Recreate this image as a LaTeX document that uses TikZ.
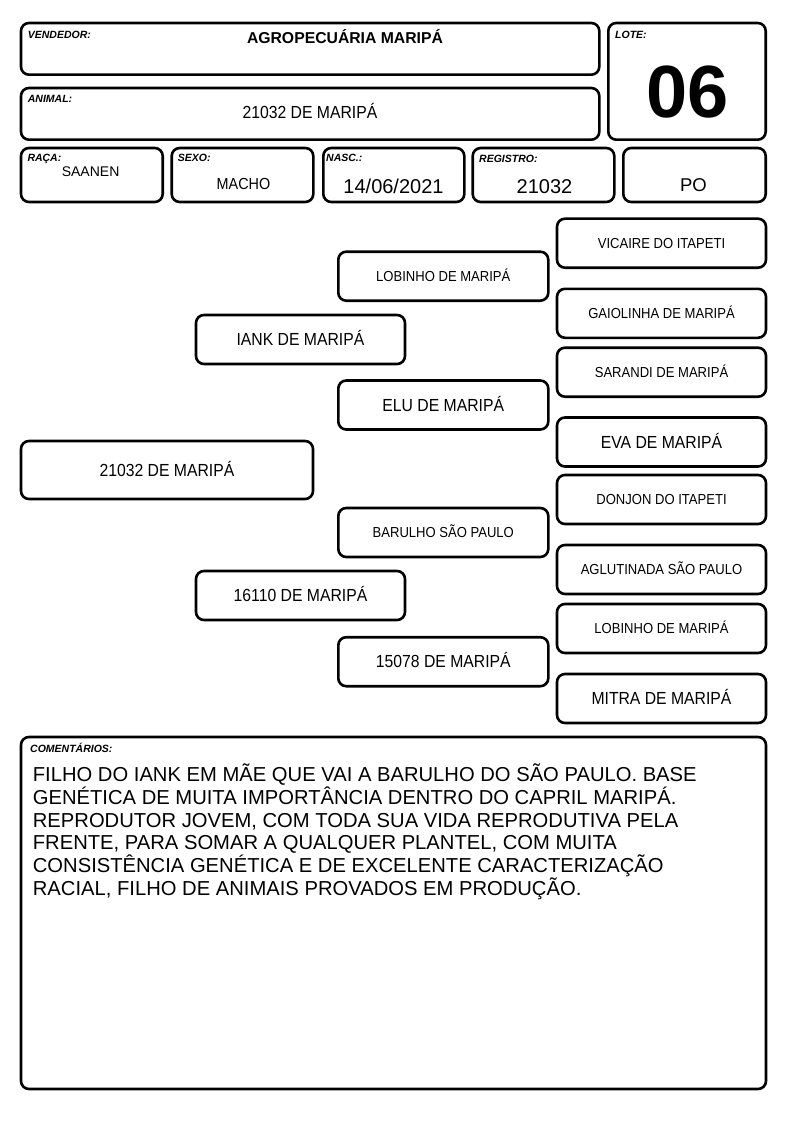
\documentclass[tikz,border=0pt]{standalone}
\usepackage{fontspec}
\setmainfont{Liberation Sans}
\newfontfamily\cond[FakeStretch=0.9]{Liberation Sans}
\begin{document}
\begin{tikzpicture}[x=1pt,y=-1pt,
  box/.style={draw=black, line width=2.6pt, rounded corners=8pt, inner sep=0pt},
  lbl/.style={anchor=base west, inner sep=0pt, font=\bfseries\itshape\fontsize{10.5}{12}\selectfont},
  val/.style={anchor=base, inner sep=0pt},
  pedL/.style={box, text height=12.5pt, text depth=0pt, font=\cond\fontsize{17.5}{20}\selectfont},
  pedS/.style={box, text height=10.4pt, text depth=0pt, font=\cond\fontsize{14.5}{17}\selectfont},
  g0/.style={minimum width=292pt, minimum height=58pt},
  g1/.style={minimum width=209pt, minimum height=49pt},
  g2/.style={minimum width=210pt, minimum height=49pt},
  g3/.style={minimum width=209pt, minimum height=49pt},
  cline/.style={anchor=base west, inner sep=0pt, font=\fontsize{20.2}{22.7}\selectfont}
]
\useasboundingbox (0,0) rectangle (794,1123);
\fill[white] (0,0) rectangle (794,1123);

% header boxes
\node[box, minimum width=578.3pt, minimum height=51.7pt] (vend) at (310.15,48.85) {};
\node[box, minimum width=157.4pt, minimum height=116.7pt] (lote) at (687,81.35) {};
\node[box, minimum width=578.3pt, minimum height=51.7pt] (animal) at (310.15,113.85) {};
\node[box, minimum width=141.7pt, minimum height=54pt] (raca) at (91.85,175) {};
\node[box, minimum width=141.6pt, minimum height=54pt] (sexo) at (242.5,175) {};
\node[box, minimum width=141pt, minimum height=54pt] (nasc) at (393.8,175) {};
\node[box, minimum width=141.6pt, minimum height=54pt] (reg) at (543.5,175) {};
\node[box, minimum width=142.4pt, minimum height=54pt] (po) at (694.5,175) {};

% labels
\node[lbl] (lvend) at (27.7,38.7) {VENDEDOR:};
\node[lbl] (lanimal) at (27.7,102.3) {ANIMAL:};
\node[lbl] (lraca) at (27.3,162) {RAÇA:};
\node[lbl] (lsexo) at (177.7,162) {SEXO:};
\node[lbl] (lnasc) at (326,162) {NASC.:};
\node[lbl] (lreg) at (479,163) {REGISTRO:};
\node[lbl] (llote) at (615,38.7) {LOTE:};

% values
\node[val, font=\bfseries\fontsize{15.75}{18}\selectfont] (vvend) at (345,43.3) {AGROPECUÁRIA MARIPÁ};
\node[val, font=\cond\fontsize{17.5}{20}\selectfont] (vanimal) at (310,119) {21032 DE MARIPÁ};
\node[val, font=\fontsize{14}{16}\selectfont] (vraca) at (90.6,177) {SAANEN};
\node[val, font=\cond\fontsize{16}{18}\selectfont] (vsexo) at (243.5,189.3) {MACHO};
\node[val, font=\fontsize{20}{22}\selectfont] (vnasc) at (393.5,193.3) {14/06/2021};
\node[val, font=\fontsize{20}{22}\selectfont] (vreg) at (544.5,193.3) {21032};
\node[val, font=\fontsize{18.5}{21}\selectfont] (vpo) at (693.5,192) {PO};
\node[val, font=\bfseries\fontsize{74}{80}\selectfont] (vlote) at (687.5,118) {06};

% pedigree
\node[pedL, g0] (p0) at (167,470) {21032 DE MARIPÁ};
\node[pedL, g1] (p1a) at (300.5,339.5) {IANK DE MARIPÁ};
\node[pedL, g1] (p1b) at (300.5,595.5) {16110 DE MARIPÁ};
\node[pedS, g2] (p2a) at (443.3,276.2) {LOBINHO DE MARIPÁ};
\node[pedL, g2] (p2b) at (443.3,405) {ELU DE MARIPÁ};
\node[pedS, g2] (p2c) at (443.3,532.5) {BARULHO SÃO PAULO};
\node[pedL, g2] (p2d) at (443.3,661.7) {15078 DE MARIPÁ};
\node[pedS, g3] (p3a) at (661.5,243.2) {VICAIRE DO ITAPETI};
\node[pedS, g3] (p3b) at (661.5,313.3) {GAIOLINHA DE MARIPÁ};
\node[pedS, g3] (p3c) at (661.5,372.2) {SARANDI DE MARIPÁ};
\node[pedL, g3] (p3d) at (661.5,442) {EVA DE MARIPÁ};
\node[pedS, g3] (p3e) at (661.5,499.5) {DONJON DO ITAPETI};
\node[pedS, g3] (p3f) at (661.5,569.5) {AGLUTINADA SÃO PAULO};
\node[pedS, g3] (p3g) at (661.5,628.5) {LOBINHO DE MARIPÁ};
\node[pedL, g3] (p3h) at (661.5,698.5) {MITRA DE MARIPÁ};

% comments
\node[box, minimum width=745pt, minimum height=352pt] (coment) at (393.5,913) {};
\node[lbl] (lcoment) at (30,752.7) {COMENTÁRIOS:};
\node[cline] (c1) at (32.7,781.7) {FILHO DO IANK EM MÃE QUE VAI A BARULHO DO SÃO PAULO. BASE};
\node[cline] (c2) at (32.7,804.4) {GENÉTICA DE MUITA IMPORTÂNCIA DENTRO DO CAPRIL MARIPÁ.};
\node[cline] (c3) at (32.7,827.1) {REPRODUTOR JOVEM, COM TODA SUA VIDA REPRODUTIVA PELA};
\node[cline] (c4) at (32.7,849.8) {FRENTE, PARA SOMAR A QUALQUER PLANTEL, COM MUITA};
\node[cline] (c5) at (32.7,872.5) {CONSISTÊNCIA GENÉTICA E DE EXCELENTE CARACTERIZAÇÃO};
\node[cline] (c6) at (32.7,895.2) {RACIAL, FILHO DE ANIMAIS PROVADOS EM PRODUÇÃO.};
\end{tikzpicture}
\end{document}
